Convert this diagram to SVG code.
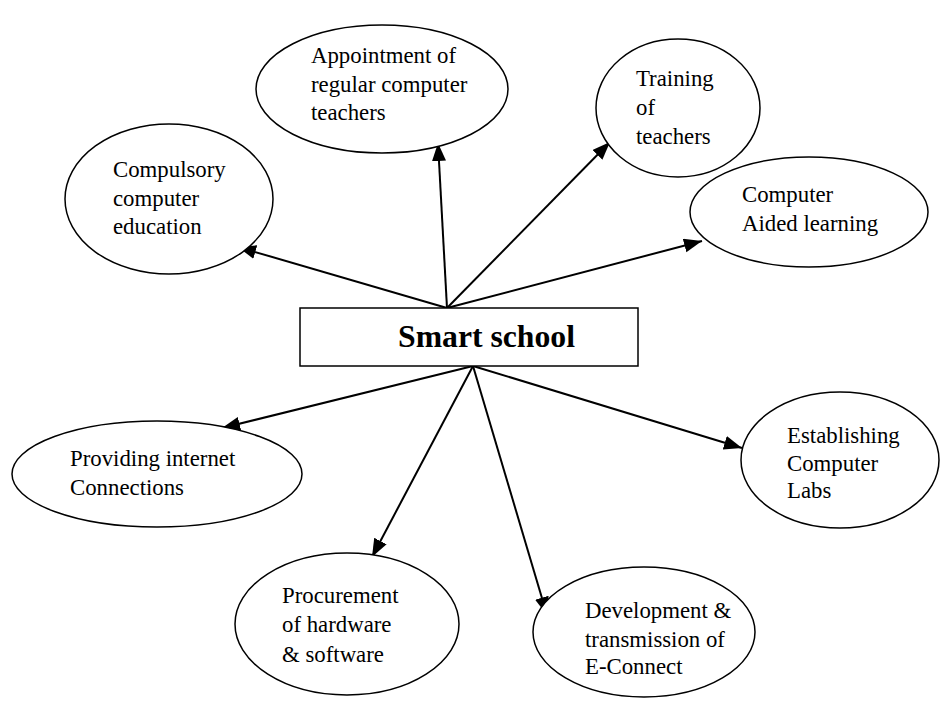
<svg xmlns="http://www.w3.org/2000/svg" width="941" height="702" viewBox="0 0 941 702">
<style>
.n{fill:#fff;stroke:#000;stroke-width:1.5}
.t{font-family:"Liberation Serif","Times New Roman",serif;font-size:22.8px;fill:#000}
.c{stroke:#000;stroke-width:2;fill:none;marker-end:url(#ah)}
</style>
<defs>
<marker id="ah" markerUnits="userSpaceOnUse" markerWidth="20" markerHeight="16" refX="18" refY="7" orient="auto">
<path d="M0,0 L18,7 L0,14 Z" fill="#000"/>
</marker>
</defs>
<rect width="941" height="702" fill="#fff"/>
<g id="connectors">
<line class="c" x1="447" y1="308" x2="238" y2="247"/>
<line class="c" x1="447" y1="308" x2="438" y2="143"/>
<line class="c" x1="447" y1="308" x2="610" y2="142"/>
<line class="c" x1="447" y1="308" x2="702" y2="241"/>
<line class="c" x1="473" y1="366" x2="222" y2="428"/>
<line class="c" x1="473" y1="366" x2="372" y2="557"/>
<line class="c" x1="473" y1="366" x2="547" y2="615"/>
<line class="c" x1="473" y1="366" x2="742" y2="448"/>
</g>
<g id="smart-school">
<rect class="n" x="300" y="308" width="338" height="58"/>
<text x="398" y="347" font-family="Liberation Serif,Times New Roman,serif" font-weight="bold" font-size="31" textLength="177" lengthAdjust="spacingAndGlyphs">Smart school</text>
</g>
<g id="compulsory">
<ellipse class="n" cx="169" cy="199" rx="104" ry="75"/>
<text class="t" x="113" y="177">Compulsory</text>
<text class="t" x="113" y="206">computer</text>
<text class="t" x="113" y="234">education</text>
</g>
<g id="appointment">
<ellipse class="n" cx="382" cy="89" rx="126" ry="64"/>
<text class="t" x="311" y="63">Appointment of</text>
<text class="t" x="311" y="92">regular computer</text>
<text class="t" x="311" y="120">teachers</text>
</g>
<g id="training">
<ellipse class="n" cx="678" cy="108" rx="82" ry="69"/>
<text class="t" x="636" y="86">Training</text>
<text class="t" x="636" y="115">of</text>
<text class="t" x="636" y="144">teachers</text>
</g>
<g id="cal">
<ellipse class="n" cx="809" cy="212" rx="119" ry="55"/>
<text class="t" x="742" y="202">Computer</text>
<text class="t" x="742" y="231">Aided learning</text>
</g>
<g id="internet">
<ellipse class="n" cx="157" cy="474" rx="145" ry="53"/>
<text class="t" x="70" y="466">Providing internet</text>
<text class="t" x="70" y="495">Connections</text>
</g>
<g id="procurement">
<ellipse class="n" cx="347" cy="624" rx="112" ry="71"/>
<text class="t" x="282" y="603">Procurement</text>
<text class="t" x="282" y="632">of hardware</text>
<text class="t" x="282" y="662">&amp; software</text>
</g>
<g id="development">
<ellipse class="n" cx="644" cy="632" rx="111" ry="65"/>
<text class="t" x="585" y="618">Development &amp;</text>
<text class="t" x="585" y="647">transmission of</text>
<text class="t" x="585" y="674">E-Connect</text>
</g>
<g id="labs">
<ellipse class="n" cx="840" cy="460" rx="99" ry="68"/>
<text class="t" x="787" y="443">Establishing</text>
<text class="t" x="787" y="471">Computer</text>
<text class="t" x="787" y="498">Labs</text>
</g>
</svg>
